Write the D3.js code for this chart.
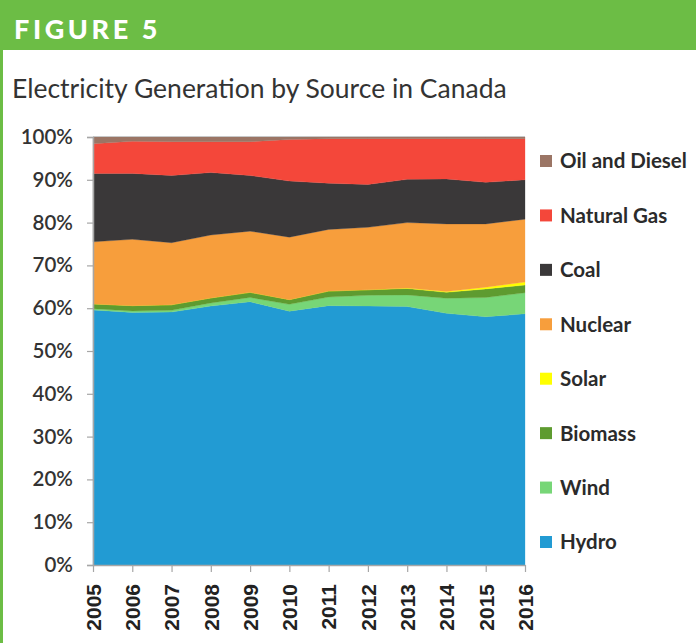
<!DOCTYPE html>
<html><head><meta charset="utf-8">
<script src="https://cdn.jsdelivr.net/npm/d3@7/dist/d3.min.js"></script>
<style>
html,body{margin:0;padding:0;background:#fff;}
svg{display:block;}
</style></head>
<body>
<svg id="chart" width="696" height="643"></svg>
<script>
const years = [2005,2006,2007,2008,2009,2010,2011,2012,2013,2014,2015,2016];
const hydro   = [59.6,59.0,59.1,60.5,61.5,59.3,60.6,60.5,60.4,58.8,58.0,58.7];
const wind    = [0.3,0.35,0.4,0.7,1.0,1.6,2.0,2.5,2.7,3.5,4.5,4.9];
const biomass = [1.1,1.25,1.3,1.2,1.2,1.1,1.4,1.3,1.5,1.4,2.0,1.8];
const solar   = [0,0,0,0,0,0,0,0,0.1,0.2,0.4,0.7];
const nuclear = [14.5,15.5,14.5,14.7,14.3,14.6,14.4,14.6,15.3,15.8,14.8,14.7];
const coal    = [16.0,15.4,15.7,14.6,13.0,13.1,10.8,10.0,10.1,10.5,9.7,9.2];
const gas     = [6.9,7.5,7.9,7.2,7.9,9.7,10.4,10.7,9.5,9.4,10.2,9.6];
const oil     = [1.6,1.0,1.1,1.1,1.1,0.6,0.4,0.4,0.4,0.4,0.4,0.4];
const seriesNames = ["Hydro","Wind","Biomass","Solar","Nuclear","Coal","Natural Gas","Oil and Diesel"];
const seriesColors = ["#229bd3","#77d677","#5e9b30","#ffff00","#f79e3c","#3a3839","#f4473a","#9b7565"];
const yTicks = [0,10,20,30,40,50,60,70,80,90,100];

const seriesValues = [hydro,wind,biomass,solar,nuclear,coal,gas,oil];
const rows = years.map((yr,i)=>{
  const r = {year:yr};
  seriesNames.forEach((n,k)=>{ r[n] = seriesValues[k][i]; });
  return r;
});

const svg = d3.select("#chart");
const green = "#6cbd45";

// header
svg.append("rect").attr("x",0).attr("y",0).attr("width",696).attr("height",50).attr("fill",green);
svg.append("rect").attr("x",0).attr("y",0).attr("width",3).attr("height",643).attr("fill",green);
svg.append("text").attr("x",14).attr("y",39).text("FIGURE 5")
  .attr("fill","#fff").attr("font-family","Lato, 'Open Sans', sans-serif").attr("font-weight","900")
  .attr("font-size",27).attr("letter-spacing",3.6);
svg.append("text").attr("x",12).attr("y",98).text("Electricity Generation by Source in Canada")
  .attr("fill","#333").attr("font-family","Lato, 'Open Sans', sans-serif").attr("font-weight","400")
  .attr("font-size",26.5);

const pLeft=93, pRight=525, pTop=137, pBottom=565;
const x = d3.scaleLinear().domain([years[0], years[years.length-1]]).range([pLeft,pRight]);
const y = d3.scaleLinear().domain([0,100]).range([pBottom,pTop]);

const stack = d3.stack().keys(seriesNames);
const layers = stack(rows);
const area = d3.area().x(d=>x(d.data.year)).y0(d=>y(d[0])).y1(d=>y(d[1]));

svg.append("g").selectAll("path").data(layers).join("path")
  .attr("d",area).attr("fill",(d,i)=>seriesColors[i])
  .attr("stroke",(d,i)=>seriesColors[i]).attr("stroke-width",0.3);

// top line
svg.append("line").attr("x1",pLeft).attr("x2",pRight).attr("y1",y(100)-0.5).attr("y2",y(100)-0.5)
  .attr("stroke","#c8c8c8").attr("stroke-width",1);

// y axis
const yAxis = d3.axisLeft(y).tickValues(yTicks).tickFormat(d=>d+"%").tickSize(6).tickPadding(14);
const gy = svg.append("g").attr("transform",`translate(${pLeft},0)`).call(yAxis);
gy.select(".domain").attr("stroke","#a6a6a6").attr("stroke-width",1.5);
gy.selectAll(".tick line").attr("stroke","#a6a6a6").attr("stroke-width",1.2);
gy.selectAll(".tick text").attr("fill","#333").attr("font-size",20.5)
  .attr("font-family","Lato, 'Open Sans', sans-serif").attr("font-weight","600");

// x axis
const xAxis = d3.axisBottom(x).tickValues(years).tickFormat(d3.format("d")).tickSize(7).tickSizeOuter(0);
const gx = svg.append("g").attr("transform",`translate(0,${pBottom})`).call(xAxis);
gx.select(".domain").attr("stroke","#a6a6a6").attr("stroke-width",1.5);
gx.selectAll(".tick line").attr("stroke","#a6a6a6").attr("stroke-width",1.2);
gx.selectAll(".tick text").attr("fill","#222").attr("font-size",21)
  .attr("font-family","'Liberation Sans', Arial, sans-serif").attr("font-weight","700")
  .attr("text-anchor","end").attr("dy","0.35em")
  .attr("transform","translate(0,19) rotate(-90)").attr("x",0).attr("y",0);

// legend
const legendOrder = seriesNames.map((n,i)=>({name:n,color:seriesColors[i]})).reverse();
const lg = svg.append("g");
const ly = d3.scalePoint().domain(legendOrder.map(d=>d.name)).range([161,542]);
legendOrder.forEach(d=>{
  lg.append("rect").attr("x",540).attr("y",ly(d.name)-6).attr("width",12).attr("height",12).attr("fill",d.color);
  lg.append("text").attr("x",560).attr("y",ly(d.name)).attr("dy","0.36em").text(d.name)
    .attr("fill","#2b2b2b").attr("font-size",20.5).attr("font-weight","700")
    .attr("font-family","Lato, 'Open Sans', sans-serif");
});
</script>
</body></html>
